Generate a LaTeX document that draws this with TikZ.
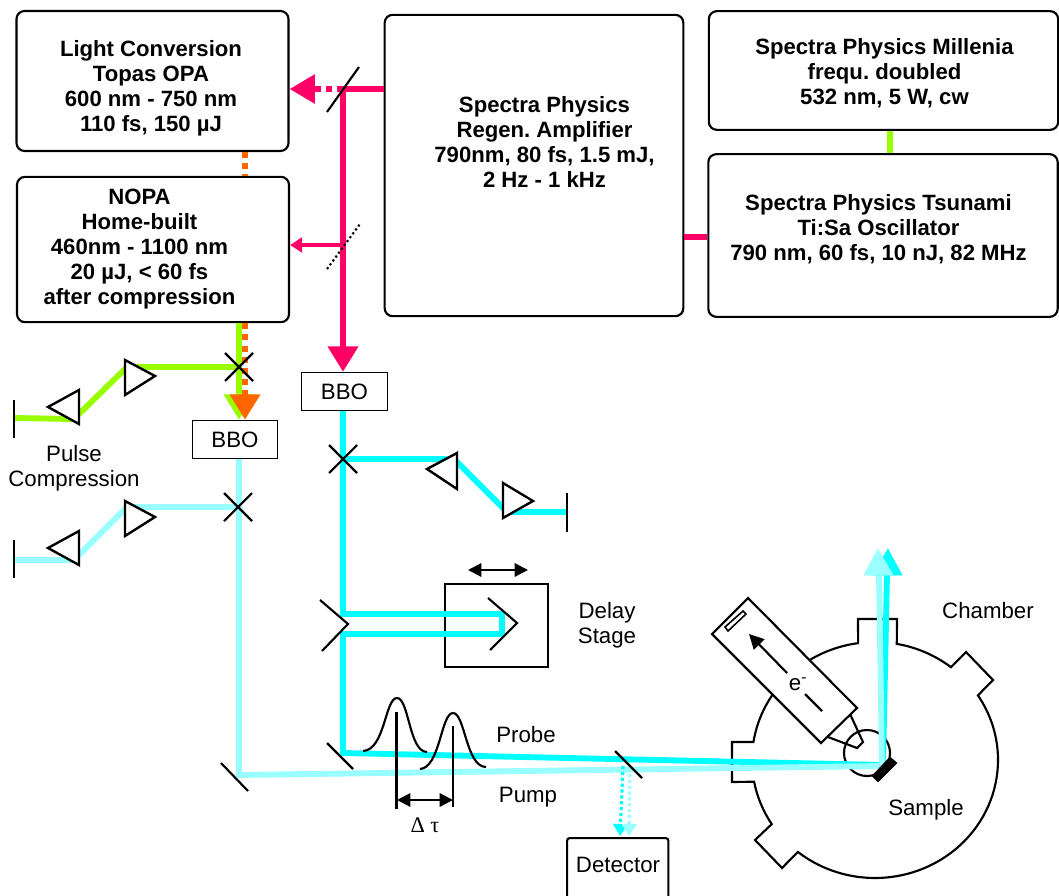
\documentclass[tikz,border=0pt]{standalone}
\usepackage{xcolor}
\usepackage{fontspec}
\setmainfont{Liberation Sans}
\usepackage{tikz}
\usetikzlibrary{arrows.meta,calc}
\definecolor{pinkbeam}{HTML}{FF0066}
\definecolor{greenbeam}{HTML}{99FF00}
\definecolor{orangebeam}{HTML}{FF6600}
\definecolor{cyanbeam}{HTML}{00FFFF}
\definecolor{palebeam}{HTML}{99FFFF}

\begin{document}
\begin{tikzpicture}[x=0.75pt,y=0.75pt,yscale=-1,
    module/.style={rectangle, rounded corners=6pt, draw=black, line width=1.6pt, fill=white, inner sep=0pt},
    moduletext/.style={align=center, inner sep=0pt, font=\fontsize{16.6}{18.75}\selectfont\bfseries\frenchspacing},
    crystal/.style={rectangle, draw=black, line width=0.6pt, fill=white, minimum width=64pt, minimum height=29pt, inner sep=0pt, font=\fontsize{16.7}{18}\selectfont},
    label/.style={align=center, inner sep=0pt, font=\fontsize{16.7}{19}\selectfont},
    beam/.style={line width=4.4pt},
    dotbeam/.style={line width=4.4pt, dash pattern=on 4.4pt off 4pt},
    thinbeam/.style={line width=2.4pt},
    thindots/.style={line width=2.4pt, dash pattern=on 2.4pt off 2pt},
    optic/.style={draw=black, line width=1.6pt},
    prism/.style={draw=black, line width=1.8pt, fill=white},
    bigtip/.style={-{Triangle[length=19pt,width=21pt]}},
    midtip/.style={-{Triangle[length=19pt,width=22pt]}},
    smalltip/.style={-{Triangle[length=9pt,width=11pt]}},
    measure/.style={{Triangle[length=10pt,width=10pt]}-{Triangle[length=10pt,width=10pt]}, line width=1.6pt}
]
\useasboundingbox (0,0) rectangle (1059,895);

% boxes
\node[module, minimum width=204pt, minimum height=105pt] (topas) at (152.5,81) {};
\node[moduletext] (topastext) at (151,88) {Light Conversion\\Topas OPA\\600 nm - 750 nm\\110 fs, 150 µJ};
\node[module, minimum width=204pt, minimum height=109pt] (nopa) at (153,249.5) {};
\node[moduletext] (nopatext) at (139.5,249.5) {NOPA\\Home-built\\460nm - 1100 nm\\20 µJ, < 60 fs\\after compression};
\node[module, minimum width=224pt, minimum height=226pt] (regen) at (534,165.5) {};
\node[moduletext] (regentext) at (544.5,141.5) {Spectra Physics\\Regen. Amplifier\\790nm, 80 fs, 1.5 mJ,\\2 Hz - 1 kHz};
\node[module, minimum width=262pt, minimum height=89pt] (millenia) at (883.5,70.5) {};
\node[moduletext] (milleniatext) at (884.5,73) {Spectra Physics Millenia\\frequ. doubled\\532 nm, 5 W, cw};
\node[module, minimum width=262pt, minimum height=122pt] (tsunami) at (883,235.5) {};
\node[moduletext] (tsunamitext) at (878.5,229.5) {Spectra Physics Tsunami\\Ti:Sa Oscillator\\790 nm, 60 fs, 10 nJ, 82 MHz};
\node[crystal] (bboa) at (344.5,391.5) {BBO};
\node[crystal] (bbob) at (235,439.5) {BBO};
\node[module, rounded corners=2pt, minimum width=76pt, minimum height=50pt, anchor=north west] (detector) at (566,837) {};
\node[label] (detectortext) at (618,865) {Detector};
\node[rectangle, draw=black, line width=1.6pt, minimum width=77pt, minimum height=62pt] (stage) at (496.5,625.5) {};

% beam points
\coordinate (splita) at (343,89);
\coordinate (splitb) at (343,245);
\coordinate (xgreen) at (239,367);
\coordinate (xpale) at (239,507);
\coordinate (xcyan) at (343,459);
\coordinate (foldcyan) at (343,753);
\coordinate (foldpale) at (239,775);
\coordinate (sample) at (883,765);
\coordinate (samplepale) at (882,766);
\coordinate (upcyan) at (888,549);
\coordinate (uppale) at (878,549);

% chamber
\coordinate (chamber) at (875,760);
\def\rx{123}
\def\ry{118}
\draw[optic] ($(chamber)+(-79.8:\rx*1 and \ry*1)$) arc[start angle=-79.8,end angle=-51.9,x radius=\rx,y radius=\ry] -- (966,652) -- (993,680) -- ($(chamber)+(-33.2:\rx*1 and \ry*1)$) arc[start angle=-33.2,end angle=128.8,x radius=\rx,y radius=\ry] -- (782,868) -- (755,840) -- ($(chamber)+(147.1:\rx*1 and \ry*1)$) arc[start angle=147.1,end angle=169.4,x radius=\rx,y radius=\ry] -- (732,782) -- (732,742) -- ($(chamber)+(188.8:\rx*1 and \ry*1)$) arc[start angle=188.8,end angle=262.1,x radius=\rx,y radius=\ry] -- (858,619) -- (897,619) -- cycle;
\draw[optic] (867,753) circle (23);

% laser beams
\draw[beam, greenbeam] (millenia.south -| 890,0) -- (tsunami.north -| 890,0);
\draw[beam, pinkbeam] (tsunami.west |- 0,237) -- (regen.east |- 0,237);
\draw[dotbeam, orangebeam] (topas.south -| 245,0) -- (nopa.north -| 245,0);
\draw[dotbeam, pinkbeam, bigtip] (splita) -- (topas.east |- splita);
\draw[thinbeam, pinkbeam, smalltip] (splitb) -- (nopa.east |- splitb);
\draw[beam, pinkbeam] (regen.west |- splita) -- (splita);
\draw[beam, pinkbeam, midtip] (splita) -- (bboa.north -| splita);

\draw[beam, greenbeam, midtip] (nopa.south -| xgreen) -- (bbob.north -| xgreen);
\draw[dotbeam, orangebeam, midtip] (nopa.south -| 245,0) -- (bbob.north -| 245,0);
\draw[beam, greenbeam] (xgreen) -- (130,367) -- (125,369) -- (80,413) -- (72,419) -- (15,418);
\draw[beam, palebeam] (xpale) -- (130,507) -- (125,509) -- (80,554) -- (72,560) -- (15,560);

\draw[beam, cyanbeam] (xcyan) -- (445,459) -- (457,462) -- (503,508) -- (510,512) -- (567,512);
\draw[beam, cyanbeam] (bboa.south -| xcyan) -- (343,614) -- (502,614) -- (502,634) -- (343,634) -- (foldcyan) -- (sample) -- (887,575);
\draw[beam, palebeam] (bbob.south -| xpale) -- (foldpale) -- (samplepale) -- (879,575);
\draw[cyanbeam, fill=cyanbeam] (upcyan) -- (872,575) -- (902,575) -- cycle;
\draw[palebeam, fill=palebeam] (uppale) -- (864,575) -- (893,575) -- cycle;
\draw[thindots, cyanbeam, smalltip] (623,766) -- (620,836);
\draw[thindots, palebeam, smalltip] (630,768) -- (629,836);

% mirrors
\draw[optic] (327,112) -- (359,67);
\draw[optic, dotted] (327,269) -- (360,224);
\draw[optic] (225,353) -- (253,381) (225,381) -- (253,353);
\draw[optic] (224,493) -- (252,521) (224,521) -- (252,493);
\draw[optic] (329,445) -- (357,473) (329,473) -- (357,445);
\draw[optic] (14,400) -- (14,438);
\draw[optic] (14,540) -- (14,578);
\draw[optic] (567,493) -- (567,532);
\draw[optic] (320,600) -- (348,624) -- (322,651);
\draw[optic] (488,598) -- (517,623) -- (490,650);
\draw[optic] (327,743) -- (353,769);
\draw[optic] (221,763) -- (248,791);
\draw[optic] (615,751) -- (642,778);

% prisms
\draw[prism] (125,360) -- (155,376) -- (125,395) -- cycle;
\draw[prism] (79,390) -- (48,407) -- (79,424) -- cycle;
\draw[prism] (125,501) -- (155,517) -- (125,536) -- cycle;
\draw[prism] (79,531) -- (48,548) -- (79,565) -- cycle;
\draw[prism] (457,453) -- (427,469) -- (457,489) -- cycle;
\draw[prism] (503,483) -- (533,501) -- (503,518) -- cycle;

% delay
\draw[measure] (468,570) -- (528,570);
\draw[optic] (363,751) .. controls (385,750) and (385,698) .. (397,698) .. controls (409,698) and (409,752) .. (427,752);
\draw[optic] (420,769) .. controls (440,768) and (441,713) .. (453,713) .. controls (465,713) and (466,767) .. (486,767);
\draw[optic] (396.5,712) -- (396.5,809);
\draw[optic] (453,726) -- (453,807);
\draw[measure] (397,800) -- (453,800);

% analyser
\draw[prism, line width=1.6pt] (748,598) -- (712,634) -- (821,743) -- (857,708) -- cycle;
\draw[optic, line width=1.2pt] (743,611) -- (725,627) -- (728,631) -- (746,614) -- cycle;
\draw[optic, -{Triangle[length=11pt,width=11pt]}] (787,673) -- (749,634);
\draw[optic] (805,694) -- (822,711);
\draw[optic] (828,737) -- (857,748) -- (863,742) -- (850,714);
\draw[black, fill=black] (897,763) -- (890,757) -- (872,776) -- (878,782) -- cycle;

% labels
\node[label] (pulselabel) at (74,468) {Pulse\\Compression};
\node[label] (delaylabel) at (607,625) {Delay\\Stage};
\node[label] (probelabel) at (526,735) {Probe};
\node[label] (pumplabel) at (528,797) {Pump};
\node[label] (tau) at (425,825) {\fontspec{Liberation Serif}Δ τ};
\node[label] (elabel) at (798,684) {e\textsuperscript{-}};
\node[label] (chamberlabel) at (988,611) {Chamber};
\node[label] (samplelabel) at (926,810) {Sample};
\end{tikzpicture}
\end{document}
